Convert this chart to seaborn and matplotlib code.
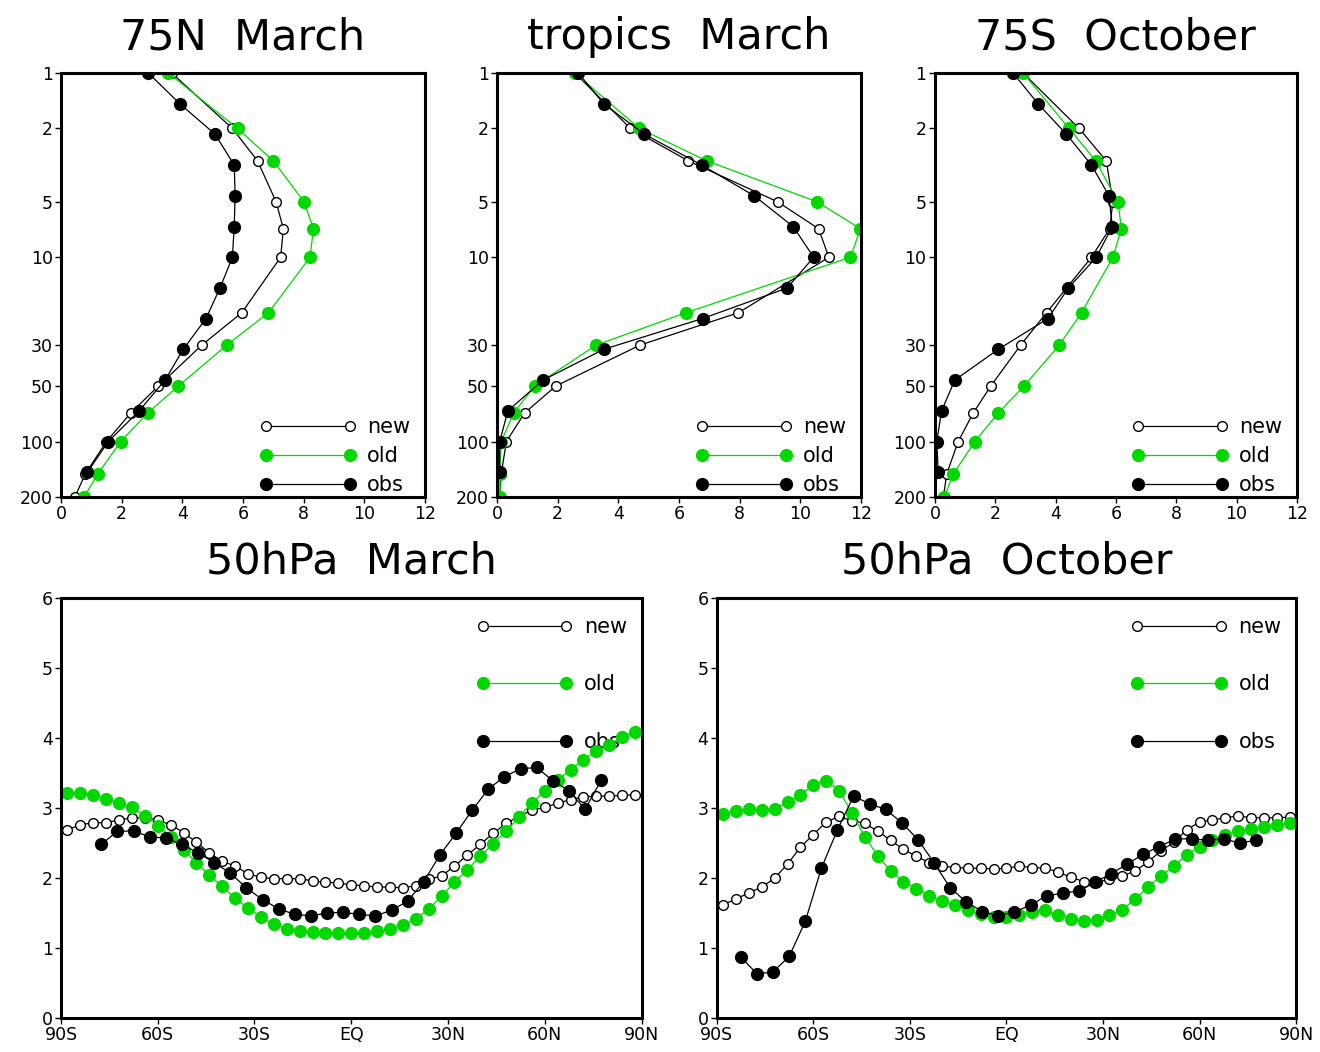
import numpy as np
import pandas as pd
import matplotlib
matplotlib.use("Agg")
import matplotlib.pyplot as plt
from matplotlib.ticker import NullLocator
import seaborn as sns

sns.set_theme(style="white")
plt.rcParams["font.family"] = ["DejaVu Sans"]
plt.rcParams["text.color"] = "black"
plt.rcParams["axes.labelcolor"] = "black"
plt.rcParams["xtick.color"] = "black"
plt.rcParams["ytick.color"] = "black"

GREEN = "#00d800"

# ---------------- data: vertical profiles ----------------
model_p = [1, 2, 3, 5, 7, 10, 20, 30, 50, 70, 100, 150, 200]
obs_p = [1, 1.47, 2.15, 3.16, 4.64, 6.81, 10, 14.7, 21.5, 31.6, 46.4, 68.1, 100, 147]

n75_new = [3.65, 5.65, 6.48, 7.09, 7.33, 7.24, 5.96, 4.64, 3.21, 2.30, 1.50, 0.80, 0.46]
n75_old = [3.54, 5.82, 7.00, 8.01, 8.32, 8.21, 6.84, 5.46, 3.87, 2.86, 1.97, 1.21, 0.76]
n75_obs = [2.88, 3.92, 5.08, 5.71, 5.74, 5.71, 5.65, 5.24, 4.78, 4.03, 3.43, 2.58, 1.56, 0.87]

tr_new = [2.57, 4.40, 6.31, 9.25, 10.60, 10.94, 7.96, 4.71, 1.94, 0.91, 0.31, 0.14, 0.09]
tr_old = [2.57, 4.69, 6.92, 10.55, 11.98, 11.65, 6.23, 3.26, 1.24, 0.55, 0.14, 0.09, 0.11]
tr_obs = [2.68, 3.52, 4.86, 6.75, 8.48, 9.76, 10.44, 9.56, 6.78, 3.52, 1.52, 0.36, 0.09, 0.09]

s75_new = [2.92, 4.78, 5.68, 5.90, 5.79, 5.19, 3.70, 2.84, 1.85, 1.27, 0.77, 0.39, 0.28]
s75_old = [2.92, 4.45, 5.33, 6.07, 6.18, 5.90, 4.86, 4.12, 2.95, 2.10, 1.32, 0.61, 0.31]
s75_obs = [2.59, 3.42, 4.36, 5.19, 5.77, 5.88, 5.35, 4.42, 3.75, 2.10, 0.66, 0.22, 0.06, 0.11]

# ---------------- data: 50 hPa latitude sections ----------------
model_lat = np.arange(-88, 89, 4)
obs_lat_mar = np.arange(-77.5, 78, 5)
obs_lat_oct = np.arange(-82.5, 78, 5)

mar_new = [2.69, 2.76, 2.79, 2.79, 2.83, 2.86, 2.86, 2.83, 2.76, 2.65, 2.51, 2.36,
           2.24, 2.17, 2.06, 2.01, 1.99, 1.99, 1.99, 1.96, 1.94, 1.93, 1.90, 1.89,
           1.87, 1.87, 1.86, 1.89, 1.98, 2.03, 2.17, 2.33, 2.48, 2.64, 2.78, 2.88,
           2.97, 3.01, 3.07, 3.12, 3.16, 3.17, 3.17, 3.18, 3.19]
mar_old = [3.22, 3.22, 3.19, 3.13, 3.07, 3.01, 2.89, 2.75, 2.59, 2.40, 2.22, 2.04,
           1.88, 1.71, 1.57, 1.44, 1.34, 1.27, 1.25, 1.23, 1.21, 1.21, 1.21, 1.21,
           1.24, 1.27, 1.33, 1.41, 1.56, 1.74, 1.94, 2.12, 2.31, 2.49, 2.67, 2.87,
           3.07, 3.25, 3.40, 3.55, 3.69, 3.81, 3.90, 4.02, 4.08]
mar_obs = [2.48, 2.67, 2.67, 2.59, 2.57, 2.48, 2.36, 2.22, 2.07, 1.86, 1.69, 1.56,
           1.48, 1.46, 1.50, 1.51, 1.48, 1.46, 1.54, 1.67, 1.95, 2.33, 2.64, 2.97,
           3.27, 3.45, 3.56, 3.58, 3.39, 3.25, 2.98, 3.40]

oct_new = [1.62, 1.70, 1.79, 1.87, 2.00, 2.20, 2.44, 2.62, 2.80, 2.88, 2.82, 2.78,
           2.67, 2.54, 2.41, 2.31, 2.22, 2.17, 2.15, 2.14, 2.14, 2.13, 2.14, 2.17,
           2.15, 2.14, 2.09, 2.01, 1.95, 1.94, 1.98, 2.03, 2.10, 2.23, 2.39, 2.51,
           2.69, 2.80, 2.83, 2.86, 2.89, 2.86, 2.86, 2.86, 2.87]
oct_old = [2.92, 2.96, 2.98, 2.97, 2.99, 3.08, 3.19, 3.33, 3.39, 3.25, 2.93, 2.59,
           2.32, 2.10, 1.95, 1.85, 1.75, 1.67, 1.61, 1.54, 1.48, 1.45, 1.45, 1.47,
           1.52, 1.54, 1.47, 1.42, 1.38, 1.40, 1.47, 1.55, 1.70, 1.87, 2.03, 2.17,
           2.33, 2.45, 2.55, 2.62, 2.67, 2.70, 2.73, 2.76, 2.78]
oct_obs = [0.87, 0.63, 0.66, 0.88, 1.38, 2.14, 2.69, 3.17, 3.06, 2.98, 2.79, 2.55,
           2.22, 1.86, 1.66, 1.52, 1.46, 1.52, 1.61, 1.75, 1.78, 1.82, 1.94, 2.06,
           2.20, 2.34, 2.45, 2.56, 2.56, 2.54, 2.56, 2.50, 2.54]

profile_titles = ["75N  March", "tropics  March", "75S  October"]
section_titles = ["50hPa  March", "50hPa  October"]
p_ticks = [1, 2, 5, 10, 30, 50, 100, 200]
v_ticks = [0, 2, 4, 6, 8, 10, 12]
lat_ticks = [-90, -60, -30, 0, 30, 60, 90]
lat_labels = ["90S", "60S", "30S", "EQ", "30N", "60N", "90N"]
sec_ticks = [0, 1, 2, 3, 4, 5, 6]

STY = {
    "new": dict(color="black", marker="o", markersize=7, markerfacecolor="white",
                markeredgecolor="black", markeredgewidth=1.0, linewidth=0.9),
    "old": dict(color=GREEN, marker="o", markersize=8.5, markerfacecolor=GREEN,
                markeredgecolor=GREEN, markeredgewidth=1.0, linewidth=0.9),
    "obs": dict(color="black", marker="o", markersize=8.5, markerfacecolor="black",
                markeredgecolor="black", markeredgewidth=1.0, linewidth=0.9),
}


def draw(ax, xs, ys, kind):
    df = pd.DataFrame({"x": xs, "y": ys})
    sns.lineplot(data=df, x="x", y="y", sort=False, estimator=None, ax=ax,
                 label=kind, legend=False, **STY[kind])


def style_axes(ax):
    for s in ax.spines.values():
        s.set_linewidth(2.2)
        s.set_color("black")
        s.set_visible(True)
    ax.tick_params(direction="out", length=4, width=1, labelsize=12.5, pad=2,
                   colors="black", bottom=True, left=True, top=False, right=False)
    ax.set_xlabel("")
    ax.set_ylabel("")


fig = plt.figure(figsize=(13.2, 10.52), dpi=100)

top_pos = [(0.0462, 0.2758), (0.3765, 0.2758), (0.7083, 0.2742)]
profiles = [(n75_new, n75_old, n75_obs), (tr_new, tr_old, tr_obs), (s75_new, s75_old, s75_obs)]
for (left, width), title, (new, old, obs) in zip(top_pos, profile_titles, profiles):
    ax = fig.add_axes([left, 0.5276, width, 0.4030])
    draw(ax, new, model_p, "new")
    draw(ax, old, model_p, "old")
    draw(ax, obs, obs_p, "obs")
    ax.set_yscale("log")
    ax.set_ylim(200, 1)
    ax.set_xlim(0, 12)
    ax.set_yticks(p_ticks)
    ax.set_yticklabels([str(t) for t in p_ticks])
    ax.yaxis.set_minor_locator(NullLocator())
    ax.set_xticks(v_ticks)
    ax.set_xticklabels([str(t) for t in v_ticks])
    style_axes(ax)
    ax.set_title(title, fontsize=31, pad=17, color="black")
    ax.legend(loc="lower right", bbox_to_anchor=(0.96, 0.005), frameon=False, numpoints=2,
              handlelength=4.6, handletextpad=0.55, labelspacing=0.42, fontsize=15,
              borderaxespad=0, borderpad=0)

bot_pos = [(0.0462, 0.4398), (0.5430, 0.4389)]
sections = [(mar_new, mar_old, mar_obs, obs_lat_mar), (oct_new, oct_old, oct_obs, obs_lat_oct)]
for (left, width), title, (new, old, obs, olat) in zip(bot_pos, section_titles, sections):
    ax = fig.add_axes([left, 0.0323, width, 0.3992])
    draw(ax, model_lat, new, "new")
    draw(ax, model_lat, old, "old")
    draw(ax, olat, obs, "obs")
    ax.set_xlim(-90, 90)
    ax.set_ylim(0, 6)
    ax.set_xticks(lat_ticks)
    ax.set_xticklabels(lat_labels)
    ax.set_yticks(sec_ticks)
    ax.set_yticklabels([str(t) for t in sec_ticks])
    style_axes(ax)
    ax.set_title(title, fontsize=31, pad=18, color="black")
    leg = ax.legend(loc="upper right", bbox_to_anchor=(0.975, 0.955), frameon=False,
                    numpoints=2, handlelength=4.6, handletextpad=0.55, labelspacing=1.8,
                    fontsize=15, borderaxespad=0, borderpad=0)
    leg.set_zorder(1)

fig.savefig("out.png", dpi=100, facecolor="white")
